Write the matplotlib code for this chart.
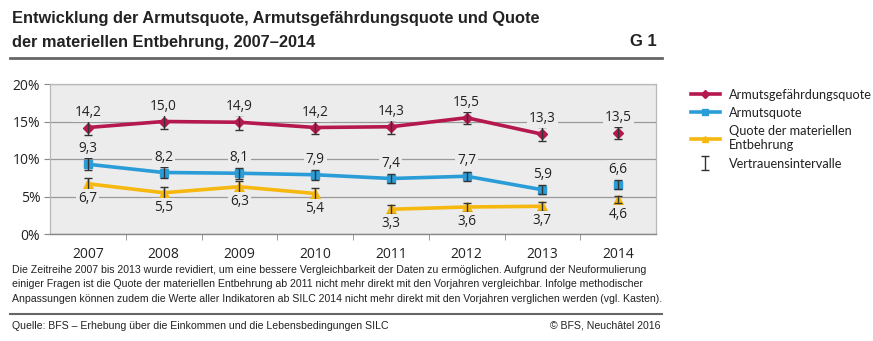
import numpy as np
import matplotlib.pyplot as plt
from matplotlib.lines import Line2D
from matplotlib.path import Path

# data
years = ["2007", "2008", "2009", "2010", "2011", "2012", "2013", "2014"]
gefaehrdung = [14.2, 15.0, 14.9, 14.2, 14.3, 15.5, 13.3, 13.5]
gefaehrdung_ci = [1.0, 1.0, 1.0, 0.9, 0.9, 0.8, 0.9, 0.8]
armut = [9.3, 8.2, 8.1, 7.9, 7.4, 7.7, 5.9, 6.6]
armut_ci = [0.8, 0.7, 0.7, 0.7, 0.6, 0.6, 0.6, 0.6]
entbehrung = [6.7, 5.5, 6.3, 5.4, 3.3, 3.6, 3.7, 4.6]
entbehrung_ci = [0.8, 0.8, 0.8, 0.8, 0.6, 0.6, 0.6, 0.5]
# segments joined by a line (series break at 2011 / 2014)
gef_segments = [(0, 7), (7, 8)]
arm_segments = [(0, 7), (7, 8)]
ent_segments = [(0, 4), (4, 7), (7, 8)]

RED = "#b5184f"
BLUE = "#2a9dd8"
YELLOW = "#f6b70f"
BG = "#ececec"
GRID = "#9a9a9a"
TXT = "#222222"

plt.rcParams["font.family"] = ["Open Sans", "DejaVu Sans"]
NARROW = ["Liberation Sans", "DejaVu Sans"]

W, H = 873, 341
fig = plt.figure(figsize=(W / 100, H / 100), dpi=100)
ax = fig.add_axes([50 / W, (H - 234) / H, 606 / W, 150 / H])
ax.set_facecolor(BG)

x = np.arange(len(years))


def draw(vals, ci, segs, color, marker, msize, above):
    for a, b in segs:
        ax.plot(x[a:b], vals[a:b], color=color, lw=2.6, marker=marker,
                ms=msize, mec=color, zorder=4)
    ax.errorbar(x, vals, yerr=ci, fmt="none", ecolor="#333333",
                elinewidth=1.0, capsize=3.2, capthick=1.0, zorder=5)
    for xi, v in zip(x, vals):
        y = v + 2.05 if above else v - 1.95
        ax.text(xi, y, f"{v:.1f}".replace(".", ","), ha="center",
                va="center", fontsize=9.8, color=TXT, zorder=6,
                bbox=dict(boxstyle="square,pad=0.15", fc=BG, ec="none"))


draw(gefaehrdung, gefaehrdung_ci, gef_segments, RED, "D", 5.5, True)
draw(armut, armut_ci, arm_segments, BLUE, "s", 6, True)
draw(entbehrung, entbehrung_ci, ent_segments, YELLOW, "^", 6.5, False)

ax.set_xlim(-0.5, len(years) - 0.5)
ax.set_ylim(0, 20)
ax.set_yticks([0, 5, 10, 15, 20])
ax.set_yticklabels(["0%", "5%", "10%", "15%", "20%"])
ax.yaxis.grid(True, color=GRID, lw=0.9, zorder=1)
ax.set_axisbelow(True)
ax.set_xticks(x)
ax.set_xticklabels(years)
ax.set_xticks(np.arange(0.5, len(years) - 1, 1), minor=True)
ax.tick_params(axis="x", which="major", length=0, pad=9, labelsize=10,
               colors=TXT)
ax.tick_params(axis="x", which="minor", length=4, color="#888888")
ax.tick_params(axis="y", length=4, color="#888888", labelsize=10,
               colors=TXT, pad=3)
for s in ["top", "right", "left"]:
    ax.spines[s].set_color("#b8b8b8")
    ax.spines[s].set_linewidth(0.9)
ax.spines["bottom"].set_color("#888888")
ax.spines["bottom"].set_linewidth(1.0)

# legend, with an I-shaped marker for the confidence intervals
ibar = Path([(-0.6, 1), (0.6, 1), (0, 1), (0, -1), (-0.6, -1), (0.6, -1)],
            [Path.MOVETO, Path.LINETO, Path.MOVETO, Path.LINETO,
             Path.MOVETO, Path.LINETO])
handles = [
    Line2D([], [], color=RED, lw=2.6, marker="D", ms=4.5),
    Line2D([], [], color=BLUE, lw=2.6, marker="s", ms=4.5),
    Line2D([], [], color=YELLOW, lw=2.6, marker="^", ms=5),
    Line2D([], [], ls="none", marker=ibar, ms=10, mew=1.0, mec="#333333",
           mfc="none"),
]
labels = ["Armutsgefährdungsquote", "Armutsquote",
          "Quote der materiellen\nEntbehrung", "Vertrauensintervalle"]
fig.legend(handles, labels, loc="upper left",
           bbox_to_anchor=(679 / W, 1 - 77 / H), frameon=False,
           prop={"family": ["Lato", "DejaVu Sans"], "size": 9.2},
           numpoints=1, handlelength=2.3, handletextpad=0.7,
           labelspacing=0.5, labelcolor=TXT)

# titles and notes
fig.text(12 / W, 1 - 18 / H,
         "Entwicklung der Armutsquote, Armutsgefährdungsquote und Quote",
         family=NARROW, fontsize=11.8, weight="bold", color=TXT, va="center")
fig.text(12 / W, 1 - 42 / H, "der materiellen Entbehrung, 2007–2014",
         family=NARROW, fontsize=11.8, weight="bold", color=TXT, va="center")
fig.text(657 / W, 1 - 42 / H, "G 1", family=NARROW, fontsize=12,
         weight="bold", color=TXT, va="center", ha="right")
fig.add_artist(Line2D([10 / W, 662 / W], [1 - 58 / H, 1 - 58 / H],
                      color="#666666", lw=2.0))

note = ("Die Zeitreihe 2007 bis 2013 wurde revidiert, um eine bessere "
        "Vergleichbarkeit der Daten zu ermöglichen. Aufgrund der "
        "Neuformulierung\neiniger Fragen ist die Quote der materiellen "
        "Entbehrung ab 2011 nicht mehr direkt mit den Vorjahren vergleichbar. "
        "Infolge methodischer\nAnpassungen können zudem die Werte aller "
        "Indikatoren ab SILC 2014 nicht mehr direkt mit den Vorjahren "
        "verglichen werden (vgl. Kasten).")
fig.text(12 / W, 1 - 265 / H, note, family=NARROW, fontsize=7.6,
         color=TXT, va="top", linespacing=1.55)
fig.add_artist(Line2D([10 / W, 662 / W], [1 - 314 / H, 1 - 314 / H],
                      color="#666666", lw=1.5))
fig.text(12 / W, 1 - 326 / H,
         "Quelle: BFS – Erhebung über die Einkommen und die "
         "Lebensbedingungen SILC", family=NARROW, fontsize=7.6, color=TXT,
         va="center")
fig.text(660 / W, 1 - 326 / H, "© BFS, Neuchâtel 2016", family=NARROW,
         fontsize=7.6, color=TXT, va="center", ha="right")

fig.savefig("out.png", dpi=100, facecolor="white")
